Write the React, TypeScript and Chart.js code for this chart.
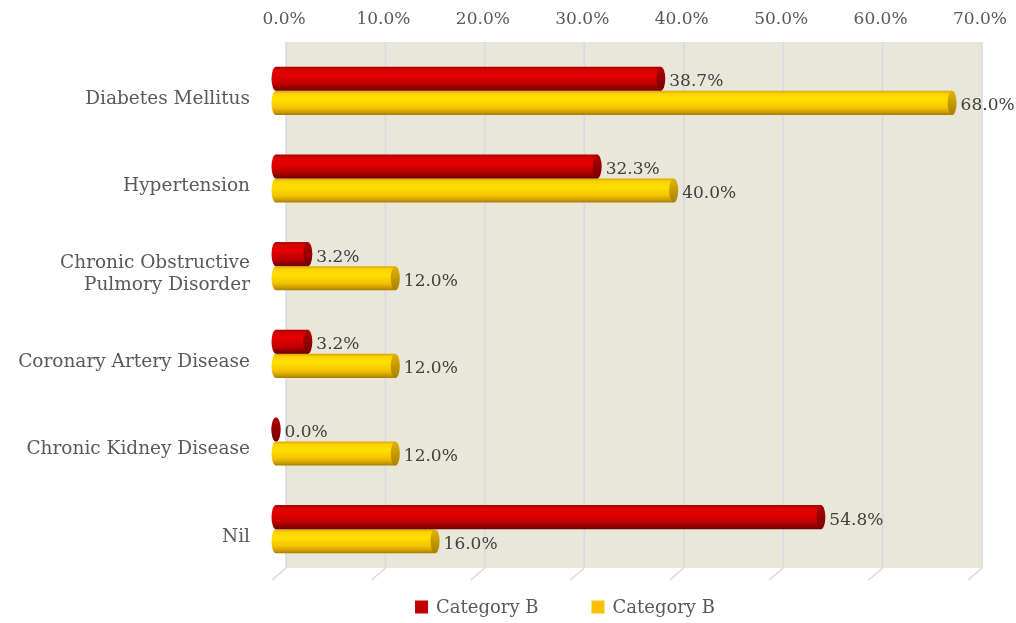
import React, { useEffect, useRef } from 'react';
import { Chart, registerables } from 'chart.js';

Chart.register(...registerables);

const categories: (string | string[])[] = [
  'Diabetes Mellitus',
  'Hypertension',
  ['Chronic Obstructive', 'Pulmory Disorder'],
  'Coronary Artery Disease',
  'Chronic Kidney Disease',
  'Nil',
];
const seriesNames = ['Category B', 'Category B'];
const redValues = [38.7, 32.3, 3.2, 3.2, 0.0, 54.8];
const yellowValues = [68.0, 40.0, 12.0, 12.0, 12.0, 16.0];
const xTickValues = [0, 10, 20, 30, 40, 50, 60, 70];

const FONT = "'DejaVu Serif', serif";
const CAT_PCT = 0.55;
const WALL_DX = 10;
const WALL_DY = -5;
const CAP_RX = 4.5;

const palettes = [
  {
    legend: '#c00000',
    stops: [
      [0, '#a00000'],
      [0.12, '#d80000'],
      [0.35, '#e60000'],
      [0.7, '#c00000'],
      [0.9, '#8a0000'],
      [1, '#700000'],
    ],
    cap: ['#b00000', '#7a0000'],
  },
  {
    legend: '#ffc000',
    stops: [
      [0, '#d8a800'],
      [0.12, '#ffd200'],
      [0.35, '#ffe000'],
      [0.7, '#f5c400'],
      [0.9, '#c99a00'],
      [1, '#a67c00'],
    ],
    cap: ['#e0b400', '#a88000'],
  },
];

function barGradient(chart: any, datasetIndex: number, dataIndex: number) {
  const area = chart.chartArea;
  const yScale = chart.scales?.y;
  if (!area || !yScale) return palettes[datasetIndex].legend;
  const catH = (area.bottom - area.top) / categories.length;
  const th = (catH * CAT_PCT) / 2;
  const c = yScale.getPixelForValue(dataIndex);
  const top = datasetIndex === 0 ? c - th : c;
  const g = chart.ctx.createLinearGradient(0, top, 0, top + th);
  for (const [o, col] of palettes[datasetIndex].stops as any) g.addColorStop(o, col);
  return g;
}

const wallPlugin = {
  id: 'wall',
  beforeDatasetsDraw(chart: any) {
    const { ctx, chartArea: a, scales } = chart;
    const x = scales.x;
    ctx.save();
    const l = a.left + WALL_DX, r = a.right + WALL_DX, t = a.top + WALL_DY, b = a.bottom + WALL_DY;
    ctx.fillStyle = '#e9e6da';
    ctx.fillRect(l, t, r - l, b - t);
    for (const v of xTickValues) {
      const px = x.getPixelForValue(v) + WALL_DX;
      ctx.strokeStyle = '#d9d9e3';
      ctx.lineWidth = 1.5;
      ctx.beginPath();
      ctx.moveTo(px, t);
      ctx.lineTo(px, b);
      ctx.stroke();
      ctx.strokeStyle = '#d8d8d8';
      ctx.lineWidth = 1.5;
      ctx.beginPath();
      ctx.moveTo(px, b);
      ctx.lineTo(px - 14, b + 12);
      ctx.stroke();
    }
    ctx.restore();
  },
};

const cylinderPlugin = {
  id: 'cylinder',
  afterDatasetsDraw(chart: any) {
    const { ctx } = chart;
    ctx.save();
    chart.data.datasets.forEach((ds: any, di: number) => {
      const meta = chart.getDatasetMeta(di);
      meta.data.forEach((el: any, i: number) => {
        const h = el.height;
        const top = el.y - h / 2;
        ctx.beginPath();
        ctx.ellipse(el.base, el.y, CAP_RX, h / 2, 0, 0, Math.PI * 2);
        ctx.fillStyle = barGradient(chart, di, i);
        ctx.fill();
        const cg = ctx.createLinearGradient(0, top, 0, top + h);
        cg.addColorStop(0, palettes[di].cap[0]);
        cg.addColorStop(1, palettes[di].cap[1]);
        ctx.beginPath();
        ctx.ellipse(el.x, el.y, CAP_RX, h / 2, 0, 0, Math.PI * 2);
        ctx.fillStyle = cg;
        ctx.fill();
        const v = ds.data[i];
        ctx.fillStyle = '#404040';
        ctx.font = `17px ${FONT}`;
        ctx.textAlign = 'left';
        ctx.textBaseline = 'middle';
        ctx.fillText(v.toFixed(1) + '%', el.x + CAP_RX + 4, el.y + 3);
      });
    });
    ctx.restore();
  },
};

const legendPlugin = {
  id: 'customLegend',
  afterDraw(chart: any) {
    const { ctx } = chart;
    ctx.save();
    ctx.font = `18px ${FONT}`;
    ctx.textBaseline = 'middle';
    ctx.textAlign = 'left';
    const box = 13, gap = 8, spacing = 53;
    const widths = seriesNames.map((n) => ctx.measureText(n).width);
    const total = widths.reduce((s, w) => s + box + gap + w, 0) + spacing * (seriesNames.length - 1);
    let x = 565 - total / 2;
    const y = 607;
    seriesNames.forEach((n, i) => {
      ctx.fillStyle = palettes[i].legend;
      ctx.fillRect(x, y - box / 2, box, box);
      x += box + gap;
      ctx.fillStyle = '#595959';
      ctx.fillText(n, x, y + 1);
      x += widths[i] + spacing;
    });
    ctx.restore();
  },
};

export default function App() {
  const ref = useRef<HTMLCanvasElement | null>(null);
  useEffect(() => {
    document.body.style.margin = '0';
    if (!ref.current) return;
    const chart = new Chart(ref.current, {
      type: 'bar',
      data: {
        labels: categories as any,
        datasets: [
          {
            label: seriesNames[0],
            data: redValues,
            backgroundColor: (c: any) => barGradient(c.chart, 0, c.dataIndex),
            borderWidth: 0,
            categoryPercentage: CAT_PCT,
            barPercentage: 1,
          },
          {
            label: seriesNames[1],
            data: yellowValues,
            backgroundColor: (c: any) => barGradient(c.chart, 1, c.dataIndex),
            borderWidth: 0,
            categoryPercentage: CAT_PCT,
            barPercentage: 1,
          },
        ],
      },
      options: {
        indexAxis: 'y',
        responsive: false,
        animation: false,
        layout: { padding: { left: 0, right: 44, top: 0, bottom: 50 } },
        plugins: { legend: { display: false }, tooltip: { enabled: false } },
        scales: {
          x: {
            position: 'top',
            min: 0,
            max: 70,
            afterBuildTicks: (s: any) => {
              s.ticks = xTickValues.map((v) => ({ value: v }));
            },
            afterFit: (s: any) => {
              s.height = 47;
            },
            grid: { display: false, drawTicks: false },
            border: { display: false },
            ticks: {
              padding: 17,
              labelOffset: 8,
              color: '#595959',
              font: { family: FONT, size: 17 },
              callback: (v: any) => Number(v).toFixed(1) + '%',
            },
          },
          y: {
            afterFit: (s: any) => {
              s.width = 276;
            },
            grid: { display: false, drawTicks: false },
            border: { display: false },
            ticks: {
              padding: 26,
              labelOffset: 8,
              color: '#595959',
              font: { family: FONT, size: 18.5 },
            },
          },
        },
      },
      plugins: [wallPlugin, cylinderPlugin, legendPlugin],
    });
    return () => chart.destroy();
  }, []);
  return (
    <div style={{ width: 1016, height: 623 }}>
      <canvas ref={ref} width={1016} height={623} style={{ display: 'block' }} />
    </div>
  );
}
